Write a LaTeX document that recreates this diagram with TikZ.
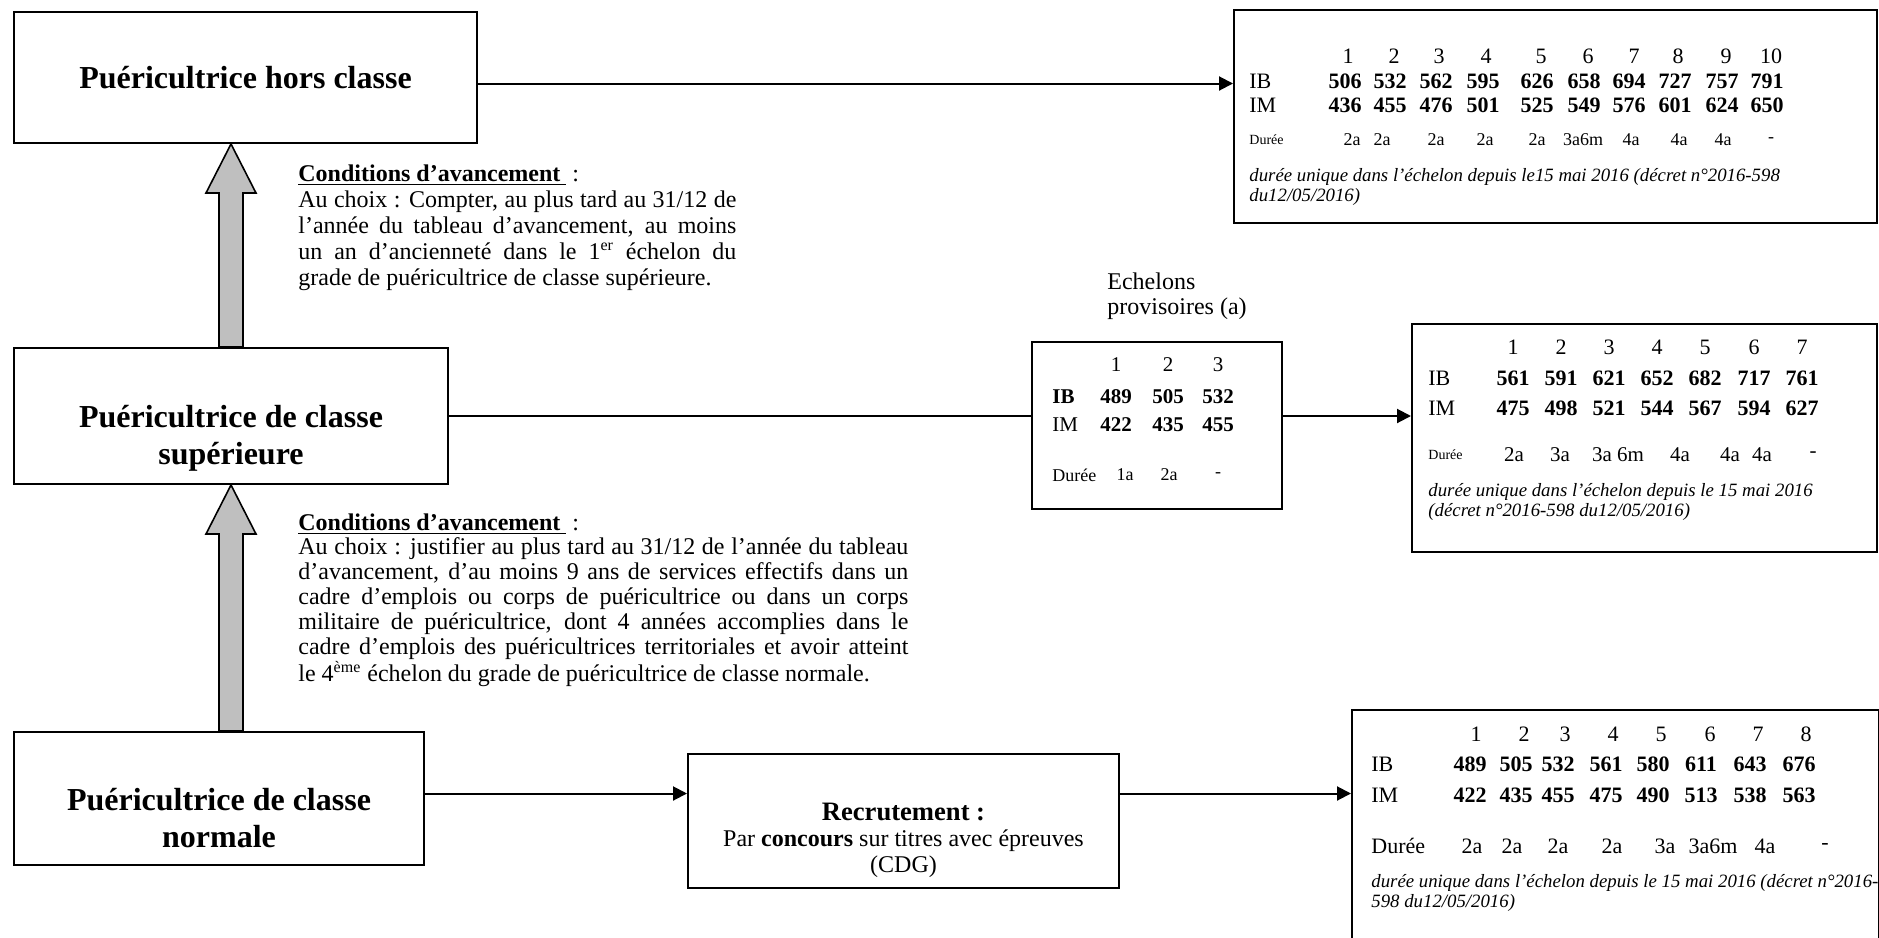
\documentclass[tikz,border=0pt]{standalone}
\usepackage{fontspec}
\setmainfont{Liberation Serif}
\usetikzlibrary{positioning,arrows.meta,calc}

% text of a box, moved down without changing the box
\newcommand{\gradetext}[2]{\raisebox{-#1}[\height][\depth]{\begin{tabular}{@{}c@{}}#2\end{tabular}}}

\begin{document}
\begin{tikzpicture}[
    x=0.5pt, y=-0.5pt,
    >={Triangle[length=7pt,width=7pt]},
    gradebox/.style={draw, line width=1pt, align=center, font=\fontsize{16}{18.4}\selectfont\bfseries},
    tablebox/.style={draw, line width=1pt},
    cell/.style={inner sep=0pt, font=\fontsize{11}{12}\selectfont},
    num/.style={inner sep=0pt, font=\fontsize{11}{12}\selectfont\bfseries},
    small/.style={inner sep=0pt, anchor=west, font=\fontsize{7}{8}\selectfont},
    note/.style={anchor=north west, align=left, inner sep=0pt, font=\fontsize{9.4}{10}\selectfont\itshape},
    cond/.style={anchor=north west, align=justify, inner sep=0pt},
    link/.style={line width=1pt},
    blockarrow/.style={draw, line width=0.8pt, fill=gray!50}
]
\useasboundingbox (0,0) rectangle (1879,937);
\clip (0,0) rectangle (1879,937);

% grades
\node[gradebox, minimum width=231.5pt, minimum height=65.5pt] (hc) at (245.5,77.5) {Puéricultrice hors classe};
\node[gradebox, minimum width=217pt, minimum height=68pt] (sup) at (231,416) {\gradetext{11.25pt}{Puéricultrice de classe\\supérieure}};
\node[gradebox, minimum width=205pt, minimum height=66.5pt] (norm) at (219,798.5) {\gradetext{11.75pt}{Puéricultrice de classe\\normale}};
\node[draw, line width=1pt, minimum width=215.5pt, minimum height=67pt, font=\fontsize{12}{13}\selectfont] (recr) at (903.5,821)
    {\gradetext{10pt}{\fontsize{13.3}{13}\selectfont\textbf{Recrutement :}\\Par \textbf{concours} sur titres avec épreuves\\(CDG)}};

% conditions
\node[cond, text width=219pt, font=\fontsize{12}{13}\selectfont] (cond1) at (298,164)
    {\underline{\textbf{Conditions d’avancement}\ }\ :\\
     Au choix : Compter, au plus tard au 31/12 de\linebreak
     l’année du tableau d’avancement, au moins\linebreak
     un an d’ancienneté dans le 1\textsuperscript{er} échelon du\linebreak
     grade de puéricultrice de classe supérieure.};
\node[cond, text width=305pt, font=\fontsize{12}{12.4}\selectfont] (cond2) at (298,513)
    {\underline{\textbf{Conditions d’avancement}\ }\ :\\
     Au choix : justifier au plus tard au 31/12 de l’année du tableau\linebreak
     d’avancement, d’au moins 9 ans de services effectifs dans un\linebreak
     cadre d’emplois ou corps de puéricultrice ou dans un corps\linebreak
     militaire de puéricultrice, dont 4 années accomplies dans le\linebreak
     cadre d’emplois des puéricultrices territoriales et avoir atteint\linebreak
     le 4\textsuperscript{ème} échelon du grade de puéricultrice de classe normale.};

% grille hors classe
\node[tablebox, minimum width=321.5pt, minimum height=106.5pt] (tabHC) at (1555.5,116.5) {};
\node[cell, anchor=west] (hcIB) at (1249,81) {IB};
\node[cell, anchor=west] (hcIM) at (1249,105) {IM};
\foreach \x/\h/\b/\m [count=\i] in {1345/1348/506/436,1390/1394/532/455,1436/1439/562/476,1483/1486/595/501,
                                    1537/1541/626/525,1584/1588/658/549,1629/1634/694/576,1675/1678/727/601,
                                    1722/1726/757/624,1767/1771/791/650}
{
    \node[cell] (hcH\i) at (\h,56) {\i};
    \node[num] (hcB\i) at (\x,81) {\b};
    \node[num] (hcM\i) at (\x,105) {\m};
}
\node[small] (hcDur) at (1249,140) {Durée};
\foreach \x/\d [count=\i] in {1352/2a,1382/2a,1436/2a,1485/2a,1537/2a,1583/3a6m,1631/4a,1679/4a,1723/4a,1771/-}
    \node[cell, font=\fontsize{9}{10}\selectfont] (hcD\i) at (\x,140) {\d};
\node[note] (hcNote) at (1249,168) {durée unique dans l’échelon depuis le15 mai 2016 (décret n°2016-598\\du12/05/2016)};

% echelons provisoires
\node[anchor=north west, align=left, inner sep=0pt, font=\fontsize{12}{12.5}\selectfont] (provlbl) at (1107,272) {Echelons\\provisoires (a)};
\node[tablebox, minimum width=125pt, minimum height=83.5pt] (prov) at (1157,425.5) {};
\node[num, anchor=west, font=\fontsize{10.5}{12}\selectfont\bfseries] (prIB) at (1052,397) {IB};
\node[cell, anchor=west, font=\fontsize{10.5}{12}\selectfont] (prIM) at (1052,425) {IM};
\foreach \x/\b/\m [count=\i] in {1116/489/422,1168/505/435,1218/532/455}
{
    \node[cell, font=\fontsize{10.5}{12}\selectfont] (prH\i) at (\x,365) {\i};
    \node[num, font=\fontsize{10.5}{12}\selectfont\bfseries] (prB\i) at (\x,397) {\b};
    \node[num, font=\fontsize{10.5}{12}\selectfont\bfseries] (prM\i) at (\x,425) {\m};
}
\node[cell, anchor=west, font=\fontsize{9}{10}\selectfont] (prDur) at (1052,475) {Durée};
\foreach \x/\d [count=\i] in {1125/1a,1169/2a,1218/-}
    \node[cell, font=\fontsize{9}{10}\selectfont] (prD\i) at (\x,475) {\d};

% grille classe superieure
\node[tablebox, minimum width=232.5pt, minimum height=114pt] (tabSup) at (1644.5,438) {};
\node[cell, anchor=west] (spIB) at (1428,378) {IB};
\node[cell, anchor=west] (spIM) at (1428,408) {IM};
\foreach \x/\b/\m [count=\i] in {1513/561/475,1561/591/498,1609/621/521,1657/652/544,1705/682/567,1754/717/594,1802/761/627}
{
    \node[cell] (spH\i) at (\x,347) {\i};
    \node[num] (spB\i) at (\x,378) {\b};
    \node[num] (spM\i) at (\x,408) {\m};
}
\node[small] (spDur) at (1428,455) {Durée};
\foreach \x/\d [count=\i] in {1514/2a,1560/3a,1618/3a 6m,1680/4a,1730/4a,1762/4a,1813/-}
    \node[cell, font=\fontsize{10.5}{12}\selectfont] (spD\i) at (\x,455) {\d};
\node[note] (spNote) at (1428,483) {durée unique dans l’échelon depuis le 15 mai 2016\\(décret n°2016-598 du12/05/2016)};

% grille classe normale
\node[tablebox, anchor=north west, minimum width=263.5pt, minimum height=120.5pt] (tabNorm) at (1351,709) {};
\node[cell, anchor=west] (nmIB) at (1371,764) {IB};
\node[cell, anchor=west] (nmIM) at (1371,795) {IM};
\foreach \x/\h/\b/\m [count=\i] in {1470/1476/489/422,1516/1524/505/435,1558/1565/532/455,1606/1613/561/475,
                                    1653/1661/580/490,1701/1710/611/513,1750/1758/643/538,1799/1806/676/563}
{
    \node[cell] (nmH\i) at (\h,734) {\i};
    \node[num] (nmB\i) at (\x,764) {\b};
    \node[num] (nmM\i) at (\x,795) {\m};
}
\node[cell, anchor=west] (nmDur) at (1371,846) {Durée};
\foreach \x/\d [count=\i] in {1472/2a,1512/2a,1558/2a,1612/2a,1665/3a,1713/3a6m,1765/4a,1825/-}
    \node[cell] (nmD\i) at (\x,846) {\d};
\node[note] (nmNote) at (1371,874) {durée unique dans l’échelon depuis le 15 mai 2016 (décret n°2016-\\598 du12/05/2016)};

% avancement
\draw[blockarrow] ($(sup.north)+(-12,0)$) -- ($(hc.south -| sup.north)+(-12,49)$) -- ++(-13,0)
    -- (hc.south -| sup.north) -- ++(25,49) -- ++(-13,0) -- ($(sup.north)+(12,0)$) -- cycle;
\draw[blockarrow] ($(sup.south |- norm.north)+(-12,0)$) -- ($(sup.south)+(-12,49)$) -- ++(-13,0)
    -- (sup.south) -- ++(25,49) -- ++(-13,0) -- ($(sup.south |- norm.north)+(12,0)$) -- cycle;

% liaisons
\draw[link,->] ([yshift=-3pt]hc.east) -- ([yshift=-3pt]hc.east -| tabHC.west);
\draw[link] (sup.east) -- (sup.east -| prov.west);
\draw[link,->] (prov.east |- sup.east) -- (sup.east -| tabSup.west);
\draw[link,->] ([yshift=2.5pt]norm.east) -- ([yshift=2.5pt]norm.east -| recr.west);
\draw[link,->] ([yshift=2.5pt]recr.east |- norm.east) -- ([yshift=2.5pt]norm.east -| tabNorm.west);
\end{tikzpicture}
\end{document}
